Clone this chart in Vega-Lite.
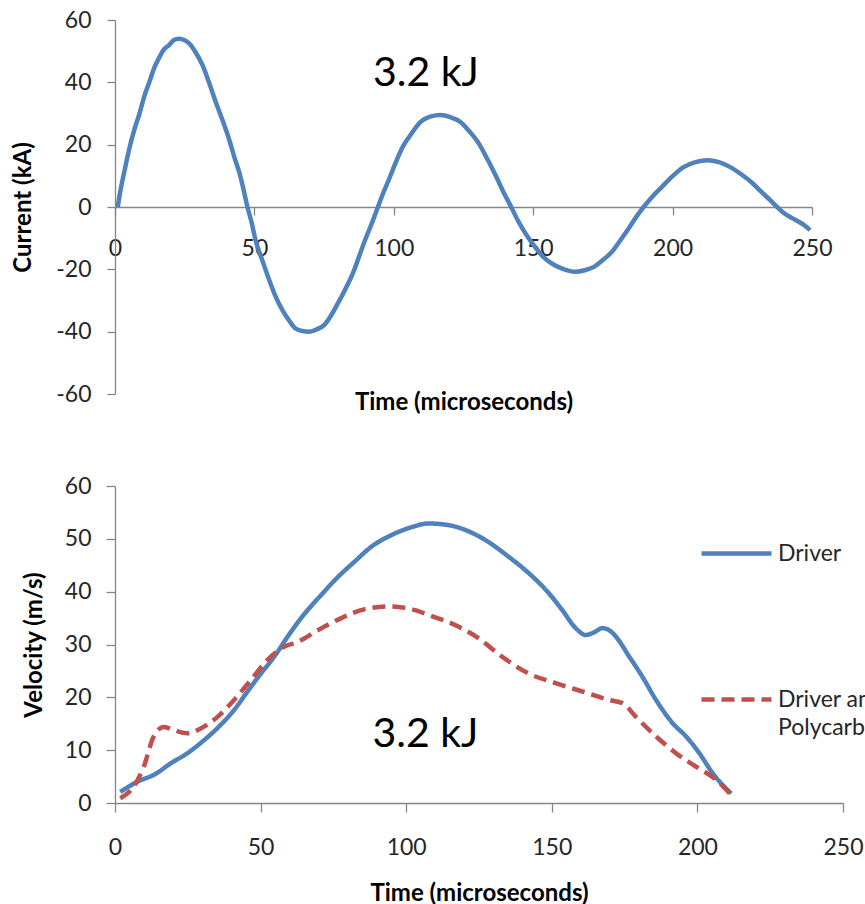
{
  "$schema": "https://vega.github.io/schema/vega-lite/v6.json",
  "padding": {"left": 11, "top": 9, "right": 0, "bottom": 0},
  "spacing": 61,
  "config": {
    "view": {"stroke": null},
    "font": "Lato",
    "style": {"guide-label": {"lineHeight": 28}},
    "axis": {
      "grid": false,
      "labelFont": "Lato",
      "labelFontSize": 23,
      "labelColor": "#262626",
      "titleFont": "Lato",
      "titleFontWeight": "bold",
      "titleFontSize": 24,
      "titleColor": "#000000",
      "domainColor": "#868686",
      "tickColor": "#868686",
      "domainWidth": 1.3,
      "tickWidth": 1.3,
      "labelExpr": "datum.value < 0 ? '-' + abs(datum.value) : '' + datum.value"
    }
  },
  "vconcat": [
    {
      "width": 697,
      "height": 374,
      "layer": [
        {
          "data": {"values": [
            {"t": 1, "I": 0}, {"t": 1.8, "I": 4.5}, {"t": 3.5, "I": 12}, {"t": 5.2, "I": 19}, {"t": 7, "I": 25},
            {"t": 8.8, "I": 30}, {"t": 10.5, "I": 35.5}, {"t": 12.3, "I": 40}, {"t": 14, "I": 44.5}, {"t": 15.9, "I": 48},
            {"t": 17.5, "I": 50.5}, {"t": 19.5, "I": 52}, {"t": 21, "I": 53.5}, {"t": 23, "I": 54}, {"t": 25, "I": 53.5},
            {"t": 26.6, "I": 52.5}, {"t": 29, "I": 49.5}, {"t": 31.4, "I": 45.5}, {"t": 33.7, "I": 40}, {"t": 36, "I": 34},
            {"t": 38.5, "I": 28}, {"t": 41, "I": 21.5}, {"t": 42.8, "I": 16}, {"t": 44.6, "I": 11}, {"t": 46, "I": 6},
            {"t": 47.5, "I": 0}, {"t": 49, "I": -5}, {"t": 50.4, "I": -10.6}, {"t": 53, "I": -17.5}, {"t": 55.3, "I": -23.4},
            {"t": 57.5, "I": -28.5}, {"t": 60, "I": -33}, {"t": 62.5, "I": -36.5}, {"t": 64.8, "I": -39}, {"t": 67.2, "I": -39.8},
            {"t": 69.6, "I": -40}, {"t": 72.5, "I": -39.2}, {"t": 75, "I": -37.9}, {"t": 77.5, "I": -34.8}, {"t": 80, "I": -30.8},
            {"t": 82.7, "I": -26.2}, {"t": 85.3, "I": -21.3}, {"t": 87.5, "I": -16}, {"t": 89.7, "I": -10.6}, {"t": 92, "I": -5.5},
            {"t": 94.3, "I": 0}, {"t": 96.2, "I": 4.5}, {"t": 98.2, "I": 8.7}, {"t": 100.7, "I": 14.3}, {"t": 103.2, "I": 19.3},
            {"t": 106.3, "I": 23.5}, {"t": 109.6, "I": 27.3}, {"t": 113, "I": 29}, {"t": 116.8, "I": 29.5}, {"t": 120.3, "I": 28.8},
            {"t": 123.9, "I": 27.3}, {"t": 127.1, "I": 24.3}, {"t": 130.4, "I": 20.5}, {"t": 133.6, "I": 15.3}, {"t": 136.8, "I": 9.6},
            {"t": 139.5, "I": 4.5}, {"t": 142.1, "I": 0}, {"t": 144.6, "I": -4.5}, {"t": 147.1, "I": -8.3}, {"t": 150.3, "I": -12.4},
            {"t": 153.6, "I": -16}, {"t": 156.8, "I": -18.2}, {"t": 160, "I": -19.6}, {"t": 162.6, "I": -20.4}, {"t": 165.3, "I": -20.8},
            {"t": 168.5, "I": -20.3}, {"t": 171.8, "I": -19.2}, {"t": 175, "I": -17}, {"t": 178.2, "I": -14.4}, {"t": 181.4, "I": -10.5},
            {"t": 184.6, "I": -6.4}, {"t": 187.1, "I": -3}, {"t": 189.6, "I": 0}, {"t": 192.8, "I": 3.4}, {"t": 196.1, "I": 6.4},
            {"t": 200, "I": 9.9}, {"t": 203.9, "I": 12.8}, {"t": 208.2, "I": 14.4}, {"t": 212.5, "I": 15}, {"t": 216.6, "I": 14.4},
            {"t": 220.7, "I": 12.8}, {"t": 224.6, "I": 10.5}, {"t": 228.6, "I": 7.7}, {"t": 231.8, "I": 4.9}, {"t": 235, "I": 2.2},
            {"t": 237.5, "I": 0}, {"t": 240, "I": -2}, {"t": 242.7, "I": -3.5}, {"t": 245.4, "I": -4.8}, {"t": 247.5, "I": -6},
            {"t": 249.3, "I": -7.4}
          ]},
          "mark": {"type": "line", "color": "#4F81BD", "strokeWidth": 4.5, "interpolate": "monotone"},
          "encoding": {
            "x": {
              "field": "t", "type": "quantitative",
              "scale": {"domain": [0, 250], "nice": false},
              "axis": {
                "title": "Time (microseconds)",
                "values": [0, 50, 100, 150, 200, 250],
                "offset": -187,
                "tickSize": 8,
                "labelPadding": 22,
                "labelFlush": false,
                "titlePadding": 130
              }
            },
            "y": {
              "field": "I", "type": "quantitative",
              "scale": {"domain": [-60, 60], "nice": false},
              "axis": {
                "title": "Current (kA)",
                "values": [-60, -40, -20, 0, 20, 40, 60],
                "tickSize": 8,
                "labelPadding": 16,
                "titlePadding": 20
              }
            }
          }
        },
        {
          "data": {"values": [{"note": "3.2 kJ"}]},
          "mark": {"type": "text", "font": "Lato", "fontSize": 41, "color": "#000000"},
          "encoding": {
            "x": {"datum": 111.5, "type": "quantitative"},
            "y": {"datum": 42.6, "type": "quantitative"},
            "text": {"field": "note"}
          }
        }
      ]
    },
    {
      "width": 728,
      "height": 317,
      "layer": [
        {
          "data": {"values": [
            {"series": "Driver", "t": 1.8, "v": 2.1}, {"series": "Driver", "t": 7.6, "v": 4.0}, {"series": "Driver", "t": 13.9, "v": 5.5},
            {"series": "Driver", "t": 19.1, "v": 7.5}, {"series": "Driver", "t": 24.8, "v": 9.4}, {"series": "Driver", "t": 30.6, "v": 11.9},
            {"series": "Driver", "t": 36.3, "v": 14.8}, {"series": "Driver", "t": 40.9, "v": 17.6}, {"series": "Driver", "t": 45.5, "v": 21.1},
            {"series": "Driver", "t": 50.1, "v": 24.5}, {"series": "Driver", "t": 54.7, "v": 27.7}, {"series": "Driver", "t": 59.3, "v": 31.5},
            {"series": "Driver", "t": 63.9, "v": 35}, {"series": "Driver", "t": 69.7, "v": 38.7}, {"series": "Driver", "t": 76.6, "v": 42.8},
            {"series": "Driver", "t": 82.3, "v": 45.7}, {"series": "Driver", "t": 88, "v": 48.5}, {"series": "Driver", "t": 94.9, "v": 50.7},
            {"series": "Driver", "t": 101.8, "v": 52.2}, {"series": "Driver", "t": 107.6, "v": 52.9}, {"series": "Driver", "t": 114.5, "v": 52.6},
            {"series": "Driver", "t": 120.2, "v": 51.7}, {"series": "Driver", "t": 127.1, "v": 49.8}, {"series": "Driver", "t": 135.2, "v": 46.6},
            {"series": "Driver", "t": 142.1, "v": 43.5}, {"series": "Driver", "t": 149, "v": 39.7}, {"series": "Driver", "t": 153.6, "v": 36.5},
            {"series": "Driver", "t": 158.2, "v": 33.1}, {"series": "Driver", "t": 161.6, "v": 31.8}, {"series": "Driver", "t": 164.5, "v": 32.3},
            {"series": "Driver", "t": 167.4, "v": 33.1}, {"series": "Driver", "t": 170, "v": 32.6}, {"series": "Driver", "t": 172, "v": 31.5},
            {"series": "Driver", "t": 176.6, "v": 27.7}, {"series": "Driver", "t": 181.1, "v": 23.9}, {"series": "Driver", "t": 185.8, "v": 19.5},
            {"series": "Driver", "t": 191.5, "v": 15.1}, {"series": "Driver", "t": 196.1, "v": 12.6}, {"series": "Driver", "t": 200.7, "v": 9.4},
            {"series": "Driver", "t": 205.3, "v": 5.6}, {"series": "Driver", "t": 211.6, "v": 1.8},
            {"series": "Driver and Polycarbonate", "t": 1.8, "v": 0.9}, {"series": "Driver and Polycarbonate", "t": 6.4, "v": 3.1},
            {"series": "Driver and Polycarbonate", "t": 9.9, "v": 6.9}, {"series": "Driver and Polycarbonate", "t": 13.3, "v": 12.6},
            {"series": "Driver and Polycarbonate", "t": 16.8, "v": 14.4}, {"series": "Driver and Polycarbonate", "t": 20.2, "v": 13.8},
            {"series": "Driver and Polycarbonate", "t": 24.8, "v": 13.2}, {"series": "Driver and Polycarbonate", "t": 29.4, "v": 14.1},
            {"series": "Driver and Polycarbonate", "t": 35.2, "v": 16.3}, {"series": "Driver and Polycarbonate", "t": 40.9, "v": 19.5},
            {"series": "Driver and Polycarbonate", "t": 46.7, "v": 23.3}, {"series": "Driver and Polycarbonate", "t": 52.4, "v": 27.1},
            {"series": "Driver and Polycarbonate", "t": 58.2, "v": 29.6}, {"series": "Driver and Polycarbonate", "t": 62.8, "v": 30.5},
            {"series": "Driver and Polycarbonate", "t": 69.7, "v": 32.7}, {"series": "Driver and Polycarbonate", "t": 77.7, "v": 35},
            {"series": "Driver and Polycarbonate", "t": 85.8, "v": 36.7}, {"series": "Driver and Polycarbonate", "t": 94.9, "v": 37.2},
            {"series": "Driver and Polycarbonate", "t": 103, "v": 36.5}, {"series": "Driver and Polycarbonate", "t": 107.6, "v": 35.6},
            {"series": "Driver and Polycarbonate", "t": 116.8, "v": 33.7}, {"series": "Driver and Polycarbonate", "t": 124.8, "v": 31.2},
            {"series": "Driver and Polycarbonate", "t": 132.9, "v": 27.7}, {"series": "Driver and Polycarbonate", "t": 142.1, "v": 24.5},
            {"series": "Driver and Polycarbonate", "t": 151.3, "v": 22.7}, {"series": "Driver and Polycarbonate", "t": 160.5, "v": 21.1},
            {"series": "Driver and Polycarbonate", "t": 169.7, "v": 19.5}, {"series": "Driver and Polycarbonate", "t": 174.3, "v": 18.9},
            {"series": "Driver and Polycarbonate", "t": 178.9, "v": 16.3}, {"series": "Driver and Polycarbonate", "t": 185.8, "v": 12.6},
            {"series": "Driver and Polycarbonate", "t": 192.7, "v": 9.4}, {"series": "Driver and Polycarbonate", "t": 199.5, "v": 6.9},
            {"series": "Driver and Polycarbonate", "t": 206.4, "v": 4.4}, {"series": "Driver and Polycarbonate", "t": 211.6, "v": 1.5}
          ]},
          "mark": {"type": "line", "strokeWidth": 4.5, "interpolate": "monotone", "strokeCap": "butt"},
          "encoding": {
            "x": {
              "field": "t", "type": "quantitative",
              "scale": {"domain": [0, 250], "nice": false},
              "axis": {
                "title": "Time (microseconds)",
                "values": [0, 50, 100, 150, 200, 250],
                "tickSize": 9,
                "labelPadding": 24,
                "labelFlush": false,
                "titlePadding": 22
              }
            },
            "y": {
              "field": "v", "type": "quantitative",
              "scale": {"domain": [0, 60], "nice": false},
              "axis": {
                "title": "Velocity (m/s)",
                "values": [0, 10, 20, 30, 40, 50, 60],
                "tickSize": 9,
                "labelPadding": 15,
                "titlePadding": 18
              }
            },
            "color": {
              "field": "series", "type": "nominal",
              "scale": {"domain": ["Driver", "Driver and Polycarbonate"], "range": ["#4F81BD", "#C0504D"]},
              "legend": {
                "title": null, "orient": "none", "legendX": 584, "legendY": 496,
                "symbolType": "stroke", "symbolSize": 4900, "symbolStrokeWidth": 4.5,
                "labelFont": "Lato", "labelFontSize": 23, "labelColor": "#262626", "labelLimit": 0, "labelOffset": 4,
                "rowPadding": 96,
                "labelExpr": "datum.label == 'Driver and Polycarbonate' ? ['Driver and', 'Polycarbonate'] : datum.label"
              }
            },
            "strokeDash": {
              "field": "series", "type": "nominal",
              "scale": {"domain": ["Driver", "Driver and Polycarbonate"], "range": [[1, 0], [13, 7]]},
              "legend": {
                "title": null, "orient": "none", "legendX": 584, "legendY": 496,
                "symbolType": "stroke", "symbolSize": 4900, "symbolStrokeWidth": 4.5,
                "labelFont": "Lato", "labelFontSize": 23, "labelColor": "#262626", "labelLimit": 0, "labelOffset": 4,
                "rowPadding": 96,
                "labelExpr": "datum.label == 'Driver and Polycarbonate' ? ['Driver and', 'Polycarbonate'] : datum.label"
              }
            }
          }
        },
        {
          "data": {"values": [{"note": "3.2 kJ"}]},
          "mark": {"type": "text", "font": "Lato", "fontSize": 41, "color": "#000000"},
          "encoding": {
            "x": {"datum": 106.6, "type": "quantitative"},
            "y": {"datum": 12.9, "type": "quantitative"},
            "text": {"field": "note"}
          }
        }
      ]
    }
  ]
}
